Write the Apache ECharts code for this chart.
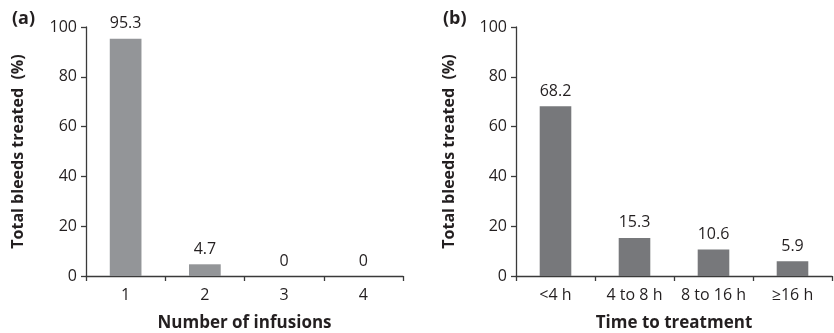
<!DOCTYPE html>
<html>
<head>
<meta charset="utf-8">
<script src="https://cdn.jsdelivr.net/npm/echarts@6/dist/echarts.min.js"></script>
<style>
html,body{margin:0;padding:0;background:#fff;}
#chart{width:834px;height:333px;}
</style>
</head>
<body>
<div id="chart"></div>
<script>
var infusionCats = ['1', '2', '3', '4'];
var infusionValues = [95.3, 4.7, 0, 0];
var timeCats = ['<4 h', '4 to 8 h', '8 to 16 h', '\u226516 h'];
var timeValues = [68.2, 15.3, 10.6, 5.9];
var yTitle = 'Total bleeds treated  (%)';

var font = 'Open Sans';
var axisColor = '#3a3a3a';
var textColor = '#231f20';

function yAxis(gridIndex, nameGap){
    return {
        type: 'value',
        gridIndex: gridIndex,
        min: 0,
        max: 100,
        interval: 20,
        name: yTitle,
        nameLocation: 'middle',
        nameGap: nameGap,
        nameTextStyle: {fontFamily: font, fontWeight: 'bold', fontSize: 16, color: textColor},
        axisLine: {show: true, lineStyle: {color: axisColor, width: 1.3}},
        axisTick: {show: true, length: 5, lineStyle: {color: axisColor, width: 1.3}},
        axisLabel: {fontFamily: font, fontSize: 16, color: textColor, margin: 9},
        splitLine: {show: false}
    };
}

function xAxis(gridIndex, cats, name){
    return {
        type: 'category',
        gridIndex: gridIndex,
        data: cats,
        name: name,
        nameLocation: 'middle',
        nameGap: 39,
        nameTextStyle: {fontFamily: font, fontWeight: 'bold', fontSize: 17, color: textColor},
        axisLine: {lineStyle: {color: axisColor, width: 1.3}},
        axisTick: {show: true, alignWithLabel: false, length: 5, lineStyle: {color: axisColor, width: 1.3}},
        axisLabel: {fontFamily: font, fontSize: 16, color: textColor, margin: 11, interval: 0}
    };
}

function labelStyle(){
    return {show: true, position: 'top', distance: 7, fontFamily: font, fontSize: 16, color: textColor};
}

var chart = echarts.init(document.getElementById('chart'));
var option = {
    backgroundColor: '#fff',
    animation: false,
    title: [
        {text: '(a)', left: 7, top: 5, textStyle: {fontFamily: font, fontWeight: 'bold', fontSize: 18, color: textColor}},
        {text: '(b)', left: 438, top: 5, textStyle: {fontFamily: font, fontWeight: 'bold', fontSize: 18, color: textColor}}
    ],
    grid: [
        {left: 86, right: 431, top: 27, bottom: 57, outerBoundsMode: 'none', containLabel: false},
        {left: 516, right: 2, top: 27, bottom: 57, outerBoundsMode: 'none', containLabel: false}
    ],
    xAxis: [
        xAxis(0, infusionCats, 'Number of infusions'),
        xAxis(1, timeCats, 'Time to treatment')
    ],
    yAxis: [
        yAxis(0, 60),
        yAxis(1, 59)
    ],
    series: [
        {
            type: 'bar', xAxisIndex: 0, yAxisIndex: 0,
            data: infusionValues, barWidth: '40%',
            itemStyle: {color: '#939598'},
            label: labelStyle()
        },
        {
            type: 'bar', xAxisIndex: 1, yAxisIndex: 1,
            data: timeValues, barWidth: '40%',
            itemStyle: {color: '#77787b'},
            label: labelStyle()
        }
    ]
};
chart.setOption(option);
</script>
</body>
</html>
